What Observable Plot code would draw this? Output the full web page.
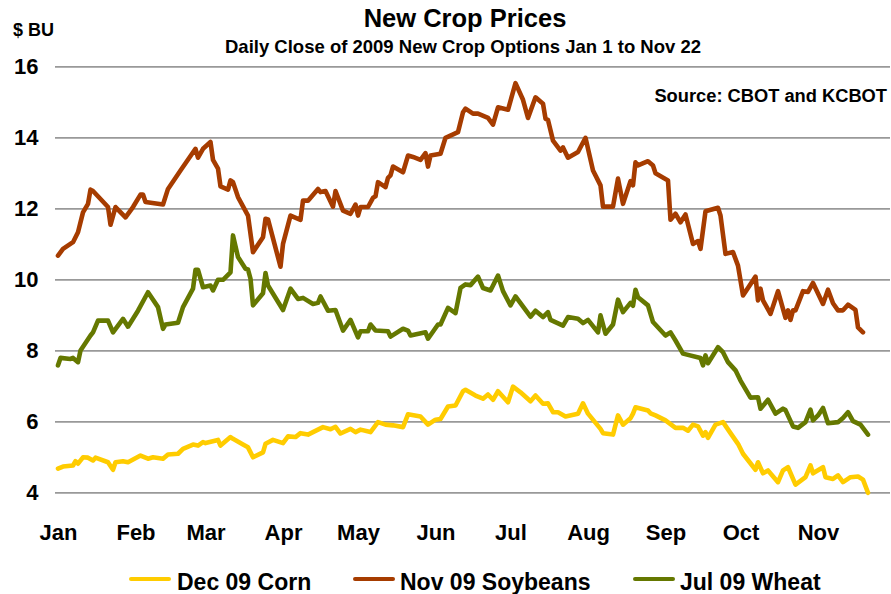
<!DOCTYPE html>
<html><head><meta charset="utf-8">
<script src="https://cdn.jsdelivr.net/npm/d3@7"></script>
<script src="https://cdn.jsdelivr.net/npm/@observablehq/plot@0.6"></script>
<style>
body{margin:0;background:#fff;font-family:"Liberation Sans",Arial,sans-serif;font-weight:bold;color:#000}
#wrap{position:relative;width:891px;height:594px;overflow:hidden}
.t{position:absolute;white-space:nowrap;line-height:1}
.sw{position:absolute;height:4px;border-radius:2px}
</style></head><body><div id="wrap"></div>
<script>
const year = 2009;
const title = "New Crop Prices";
const subtitle = "Daily Close of 2009 New Crop Options Jan 1 to Nov 22";
const unitLabel = "$ BU";
const sourceNote = "Source: CBOT and KCBOT";
const seriesNames = ["Dec 09 Corn", "Nov 09 Soybeans", "Jul 09 Wheat"];
const seriesColors = ["#FFCC00", "#A63C00", "#657800"];
const monthLabels = ["Jan","Feb","Mar","Apr","May","Jun","Jul","Aug","Sep","Oct","Nov"];
const yTicks = [4, 6, 8, 10, 12, 14, 16];

const cornDates = ["01-02","01-04","01-08","01-09","01-10","01-12","01-14","01-16","01-17","01-22","01-24","01-25","01-28","01-30","02-04","02-07","02-09","02-13","02-15","02-19","02-21","02-25","02-27","03-01","03-02","03-07","03-08","03-12","03-13","03-17","03-19","03-21","03-25","03-26","03-29","04-02","04-04","04-07","04-09","04-12","04-14","04-18","04-21","04-23","04-25","04-29","05-01","05-03","05-07","05-10","05-13","05-16","05-20","05-22","05-27","05-30","06-02","06-04","06-07","06-10","06-13","06-14","06-18","06-21","06-23","06-25","06-27","07-01","07-03","07-06","07-10","07-12","07-15","07-17","07-19","07-21","07-24","07-29","07-31","08-02","08-07","08-08","08-12","08-14","08-16","08-19","08-20","08-21","08-26","08-27","08-29","09-02","09-06","09-09","09-11","09-13","09-15","09-17","09-18","09-19","09-22","09-25","09-28","10-01","10-03","10-08","10-09","10-11","10-13","10-17","10-19","10-21","10-24","10-28","10-30","10-31","11-04","11-05","11-08","11-10","11-12","11-15","11-18","11-20","11-22"];
const cornValues = [4.68,4.74,4.77,4.89,4.82,5.00,4.99,4.91,4.99,4.86,4.65,4.86,4.89,4.86,5.05,4.96,5.00,4.96,5.08,5.10,5.24,5.36,5.33,5.43,5.40,5.49,5.33,5.57,5.52,5.36,5.28,5.00,5.14,5.38,5.49,5.40,5.59,5.57,5.68,5.64,5.71,5.85,5.79,5.86,5.67,5.80,5.71,5.78,5.71,5.99,5.92,5.90,5.85,6.21,6.15,5.92,6.06,6.08,6.43,6.46,6.86,6.90,6.74,6.65,6.77,6.62,6.86,6.55,6.99,6.83,6.58,6.74,6.51,6.52,6.27,6.27,6.15,6.23,6.52,6.23,5.80,5.68,5.64,6.18,5.92,6.10,6.23,6.41,6.32,6.24,6.18,6.04,5.83,5.83,5.75,5.92,5.87,5.61,5.71,5.55,5.92,5.99,5.68,5.38,5.10,4.65,4.86,4.55,4.63,4.30,4.63,4.72,4.23,4.44,4.77,4.55,4.72,4.44,4.39,4.49,4.30,4.44,4.46,4.37,4.00];

const soyDates = ["01-02","01-04","01-08","01-10","01-12","01-14","01-15","01-16","01-22","01-23","01-25","01-29","02-01","02-04","02-05","02-06","02-13","02-15","02-20","02-26","02-27","03-01","03-04","03-05","03-07","03-08","03-11","03-12","03-13","03-15","03-19","03-21","03-25","03-26","03-27","04-01","04-02","04-05","04-09","04-10","04-12","04-16","04-17","04-19","04-22","04-23","04-26","04-29","05-01","05-02","05-03","05-06","05-08","05-09","05-10","05-13","05-14","05-15","05-16","05-20","05-22","05-24","05-27","05-29","05-30","05-31","06-04","06-06","06-11","06-13","06-14","06-17","06-19","06-23","06-25","06-27","07-01","07-04","07-07","07-09","07-12","07-15","07-16","07-17","07-19","07-22","07-23","07-25","07-29","08-01","08-04","08-06","08-07","08-08","08-12","08-14","08-16","08-19","08-20","08-21","08-22","08-26","08-28","08-29","09-03","09-04","09-06","09-08","09-10","09-13","09-15","09-16","09-18","09-23","09-24","09-26","09-29","10-01","10-03","10-08","10-09","10-10","10-11","10-14","10-17","10-20","10-21","10-22","10-23","10-24","10-27","10-29","10-31","11-04","11-06","11-08","11-10","11-12","11-14","11-17","11-18","11-20"];
const soyValues = [10.68,10.87,11.06,11.34,11.90,12.14,12.54,12.50,12.05,11.55,12.05,11.76,12.05,12.40,12.40,12.19,12.12,12.56,13.08,13.69,13.44,13.69,13.88,13.38,13.13,12.63,12.54,12.80,12.75,12.33,11.81,10.78,11.20,11.72,11.70,10.37,11.01,11.81,11.69,12.23,12.23,12.56,12.47,12.50,12.06,12.50,11.95,11.86,12.12,11.81,12.05,12.05,12.31,12.35,12.75,12.61,12.87,12.94,13.19,13.03,13.50,13.46,13.38,13.57,13.19,13.50,13.55,14.00,14.16,14.72,14.82,14.68,14.68,14.56,14.37,14.86,14.79,15.54,15.07,14.56,15.14,14.96,14.54,14.50,13.92,13.64,13.73,13.44,13.60,14.00,13.08,12.80,12.66,12.06,12.06,12.85,12.14,12.78,12.66,13.31,13.22,13.34,13.22,13.00,12.80,11.69,11.86,11.62,11.84,11.01,11.09,10.87,11.93,12.03,11.81,10.73,10.78,10.40,9.56,10.09,9.42,9.75,9.42,9.04,9.68,8.93,9.14,8.87,9.14,9.14,9.68,9.66,9.91,9.32,9.72,9.34,9.14,9.14,9.30,9.15,8.66,8.52];

const wheatDates = ["01-02","01-03","01-07","01-08","01-10","01-11","01-15","01-16","01-18","01-22","01-24","01-28","01-30","02-03","02-07","02-11","02-13","02-14","02-19","02-21","02-25","02-26","02-27","03-01","03-04","03-05","03-07","03-09","03-12","03-13","03-15","03-18","03-19","03-20","03-21","03-25","03-26","03-27","04-02","04-05","04-08","04-10","04-14","04-16","04-17","04-20","04-23","04-26","04-29","05-02","05-03","05-06","05-07","05-09","05-14","05-15","05-20","05-22","05-23","05-29","05-30","06-03","06-04","06-07","06-10","06-12","06-14","06-16","06-19","06-21","06-24","06-27","06-29","07-02","07-04","07-10","07-12","07-15","07-17","07-18","07-23","07-25","07-29","07-31","08-02","08-06","08-07","08-09","08-12","08-14","08-16","08-19","08-20","08-21","08-22","08-26","08-28","09-02","09-04","09-06","09-09","09-16","09-17","09-18","09-19","09-23","09-25","09-27","09-30","10-02","10-06","10-09","10-10","10-13","10-16","10-19","10-20","10-23","10-25","10-28","10-30","10-31","11-02","11-04","11-06","11-10","11-12","11-14","11-16","11-19","11-22"];
const wheatValues = [7.59,7.80,7.77,7.80,7.68,8.01,8.43,8.52,8.85,8.85,8.52,8.90,8.68,9.13,9.65,9.23,8.62,8.74,8.79,9.23,9.75,10.28,10.28,9.79,9.84,9.70,10.00,10.00,10.21,11.25,10.64,10.31,10.29,10.03,9.28,9.62,10.19,9.84,9.15,9.75,9.46,9.49,9.32,9.35,9.53,9.13,9.15,8.57,8.87,8.38,8.55,8.55,8.74,8.57,8.55,8.40,8.62,8.57,8.43,8.52,8.34,8.74,8.74,9.21,9.06,9.77,9.87,9.85,10.09,9.77,9.70,10.12,9.68,9.28,9.53,8.96,9.13,8.95,9.09,8.87,8.71,8.95,8.90,8.78,8.87,8.52,9.00,8.48,8.74,9.44,9.09,9.35,9.27,9.72,9.51,9.28,8.81,8.43,8.52,8.29,7.92,7.80,7.59,7.87,7.65,8.10,7.96,7.68,7.45,7.16,6.68,6.69,6.37,6.62,6.23,6.37,6.33,5.87,5.83,5.99,6.34,6.04,6.18,6.39,5.96,5.99,6.11,6.27,6.02,5.92,5.64];

const parse = d3.utcParse("%Y-%m-%d");
const toDate = md => parse(`${year}-${md}`);
const series = [
  {name: seriesNames[0], dates: cornDates, values: cornValues},
  {name: seriesNames[1], dates: soyDates, values: soyValues},
  {name: seriesNames[2], dates: wheatDates, values: wheatValues}
];
const rows = [];
for (const s of series) s.dates.forEach((d, i) => rows.push({series: s.name, date: toDate(d), value: s.values[i]}));
const monthTicks = monthLabels.map((m, i) => new Date(Date.UTC(year, i, 1)));

const plot = Plot.plot({
  width: 891, height: 594,
  marginLeft: 55, marginRight: 1, marginTop: 66.3, marginBottom: 101.7,
  x: {type: "utc", domain: [new Date(Date.UTC(year, 0, 1)), new Date(Date.UTC(year, 11, 1))]},
  y: {domain: [4, 16]},
  color: {domain: seriesNames, range: seriesColors},
  style: {fontFamily: "'Liberation Sans', Arial, sans-serif", fontSize: "22px", fontWeight: "bold", color: "#000", background: "transparent", overflow: "visible"},
  marks: [
    Plot.ruleY(yTicks, {stroke: "#999", strokeWidth: 1.8}),
    Plot.axisY({ticks: yTicks, tickSize: 0, tickPadding: 17, label: null, fontSize: 22, fontWeight: "bold"}),
    Plot.axisX({ticks: monthTicks, tickSize: 0, tickPadding: 32, label: null, dx: 3, fontSize: 22, fontWeight: "bold",
      tickFormat: d => monthLabels[d.getUTCMonth()]}),
    Plot.line(rows, {x: "date", y: "value", z: "series", stroke: "series", strokeWidth: 4.6,
      strokeLinejoin: "round", strokeLinecap: "round"})
  ]
});

const wrap = document.getElementById("wrap");
wrap.appendChild(plot);
plot.style.position = "absolute"; plot.style.left = "0"; plot.style.top = "0";

function addText(txt, size, top, opts) {
  const el = document.createElement("div");
  el.className = "t";
  el.textContent = txt;
  el.style.fontSize = size + "px";
  el.style.top = top + "px";
  Object.assign(el.style, opts || {});
  wrap.appendChild(el);
  return el;
}
addText(title, 25.5, 6.4, {left: "465px", transform: "translateX(-50%)"});
addText(subtitle, 18.5, 38.4, {left: "463px", transform: "translateX(-50%)"});
addText(unitLabel, 18, 21.3, {left: "13px"});
addText(sourceNote, 18.3, 86.6, {right: "4px"});

const legendSwatchX = [129, 353, 633];
const legendTextX = [177, 400, 680];
seriesNames.forEach((n, i) => {
  const sw = document.createElement("div");
  sw.className = "sw";
  sw.style.left = legendSwatchX[i] + "px";
  sw.style.width = "42px";
  sw.style.top = "577px";
  sw.style.background = seriesColors[i];
  wrap.appendChild(sw);
  addText(n, 23, 570.5, {left: legendTextX[i] + "px"});
});
</script></body></html>
